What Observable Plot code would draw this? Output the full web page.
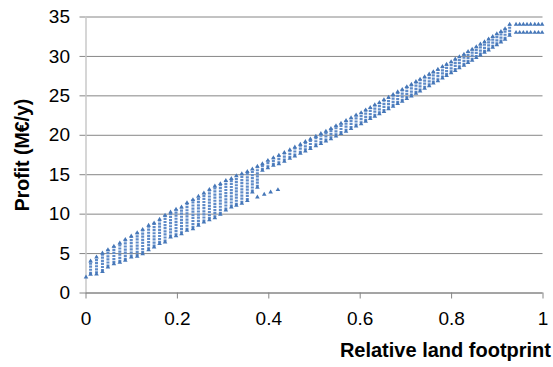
<!DOCTYPE html>
<html>
<head>
<meta charset="utf-8">
<script src="https://cdn.jsdelivr.net/npm/d3@7"></script>
<script src="https://cdn.jsdelivr.net/npm/@observablehq/plot@0.6"></script>
<style>
  html, body { margin: 0; padding: 0; background: #fff; }
  #chart { width: 553px; height: 367px; }
</style>
</head>
<body>
<div id="chart"></div>
<script>
// Wide columns (x < 0.38): x, top, bottom
const colAX = [0.010,0.023,0.036,0.048,0.061,0.074,0.086,0.099,0.112,0.124,0.137,0.149,0.161,0.173,0.185,0.197,0.209,0.221,0.234,0.246,0.258,0.270,0.282,0.294,0.306,0.318,0.329,0.341,0.353,0.364,0.375];
const colATop = [4.03,4.54,5.05,5.47,5.90,6.31,6.78,7.20,7.63,8.05,8.56,8.85,9.32,9.83,10.25,10.60,10.88,11.44,11.82,12.24,12.66,13.12,13.54,13.85,14.25,14.50,14.85,15.10,15.40,15.70,16.04];
const colABottom = [2.35,2.40,2.70,3.27,3.70,3.87,4.12,4.54,4.63,4.97,5.47,5.80,6.24,6.44,7.08,7.25,7.50,7.93,8.14,8.56,8.98,9.28,9.53,9.95,10.50,10.88,11.10,11.37,11.72,12.78,13.40];

// Narrow columns (x >= 0.386): x, top, bottom
const colBX = [0.386,0.398,0.410,0.422,0.434,0.446,0.457,0.469,0.480,0.491,0.503,0.514,0.525,0.536,0.547,0.558,0.569,0.580,0.591,0.602,0.612,0.622,0.632,0.642,0.652,0.662,0.672,0.682,0.692,0.702,0.712,0.722,0.731,0.741,0.751,0.760,0.770,0.780,0.789,0.799,0.808,0.817,0.827,0.836,0.845,0.854,0.863,0.872,0.881,0.890,0.899,0.908,0.917,0.927];
const colBTop = [16.38,16.80,17.14,17.44,17.80,18.15,18.50,18.85,19.20,19.50,19.85,20.20,20.50,20.85,21.20,21.50,21.85,22.20,22.55,22.85,23.20,23.50,23.85,24.15,24.50,24.80,25.15,25.50,25.80,26.15,26.45,26.80,27.10,27.40,27.75,28.05,28.35,28.70,29.00,29.30,29.65,29.95,30.25,30.60,30.90,31.20,31.55,31.85,32.20,32.50,32.85,33.15,33.50,34.05];
const colBBottom = [15.53,15.87,16.17,16.38,16.70,17.05,17.35,17.70,18.00,18.30,18.65,18.95,19.25,19.55,19.90,20.20,20.50,20.85,21.15,21.45,21.75,22.10,22.40,22.70,23.00,23.35,23.65,24.00,24.30,24.65,24.95,25.30,25.60,25.95,26.25,26.60,26.90,27.25,27.55,27.90,28.20,28.55,28.85,29.20,29.50,29.85,30.15,30.50,30.80,31.15,31.45,31.80,32.15,32.65];

// Isolated points
const firstX = [0.0], firstY = [2.0];
const sparseX = [0.390, 0.404, 0.420];
const sparseY = [12.49, 12.78, 13.09];
const sparse0X = [0.375], sparse0Y = [12.15];

// Flat rows at the right end
const rowX = [0.941,0.949,0.957,0.965,0.973,0.982,0.990,0.998];
const rowTopY = 34.05;
const rowBottomY = 33.03;

const xTicks = [0, 0.2, 0.4, 0.6, 0.8, 1];
const yTicks = [0, 5, 10, 15, 20, 25, 30, 35];

const blue = "#4677b8";
const light = "#5f8bc8";

const cols = [
  ...colAX.map((x, i) => ({x, top: colATop[i], bottom: colABottom[i]})),
  ...colBX.map((x, i) => ({x, top: colBTop[i], bottom: colBBottom[i]}))
];
const pts = [];
cols.forEach(c => { pts.push({x: c.x, y: c.top}); pts.push({x: c.x, y: c.bottom}); });
firstX.forEach((x, i) => pts.push({x, y: firstY[i]}));
sparse0X.forEach((x, i) => pts.push({x, y: sparse0Y[i]}));
sparseX.forEach((x, i) => pts.push({x, y: sparseY[i]}));
rowX.forEach(x => { pts.push({x, y: rowTopY}); pts.push({x, y: rowBottomY}); });

const fmt = d => String(d);

const chart = Plot.plot({
  width: 553,
  height: 367,
  marginLeft: 85.5,
  marginRight: 10.5,
  marginTop: 16.5,
  marginBottom: 74.5,
  style: {fontFamily: "'Liberation Sans', Arial, sans-serif", fontSize: "19px", color: "#000", background: "#fff"},
  x: {domain: [0, 1]},
  y: {domain: [0, 35]},
  marks: [
    Plot.gridY(yTicks, {stroke: "#868686", strokeOpacity: 1, strokeWidth: 1}),
    Plot.axisY(yTicks, {tickSize: 6, tickPadding: 10, stroke: "#868686", label: null, fontSize: 19, tickFormat: fmt}),
    Plot.ruleX([0], {stroke: "#c8c8c8", strokeWidth: 1.5}),
    Plot.ruleY([0], {stroke: "#868686", strokeWidth: 1}),
    Plot.axisX(xTicks, {tickSize: 6, tickPadding: 12, stroke: "#868686", label: null, fontSize: 19, tickFormat: fmt}),
    Plot.ruleX(cols, {x: "x", y1: "bottom", y2: "top", stroke: light, strokeWidth: 3, strokeDasharray: "2.2,0.9"}),
    Plot.dot(pts, {x: "x", y: "y", symbol: "triangle", r: 1.7, fill: blue, stroke: "none"}),
    Plot.text([0], {frameAnchor: "left", text: () => "Profit (M€/y)", rotate: -90, textAnchor: "middle", dx: -63, fontWeight: "bold", fontSize: 19.5, fill: "#000"}),
    Plot.text([0], {frameAnchor: "bottom-right", text: () => "Relative land footprint", textAnchor: "end", dx: 8, dy: 64, fontWeight: "bold", fontSize: 20, fill: "#000"})
  ]
});
document.getElementById("chart").appendChild(chart);
</script>
</body>
</html>
